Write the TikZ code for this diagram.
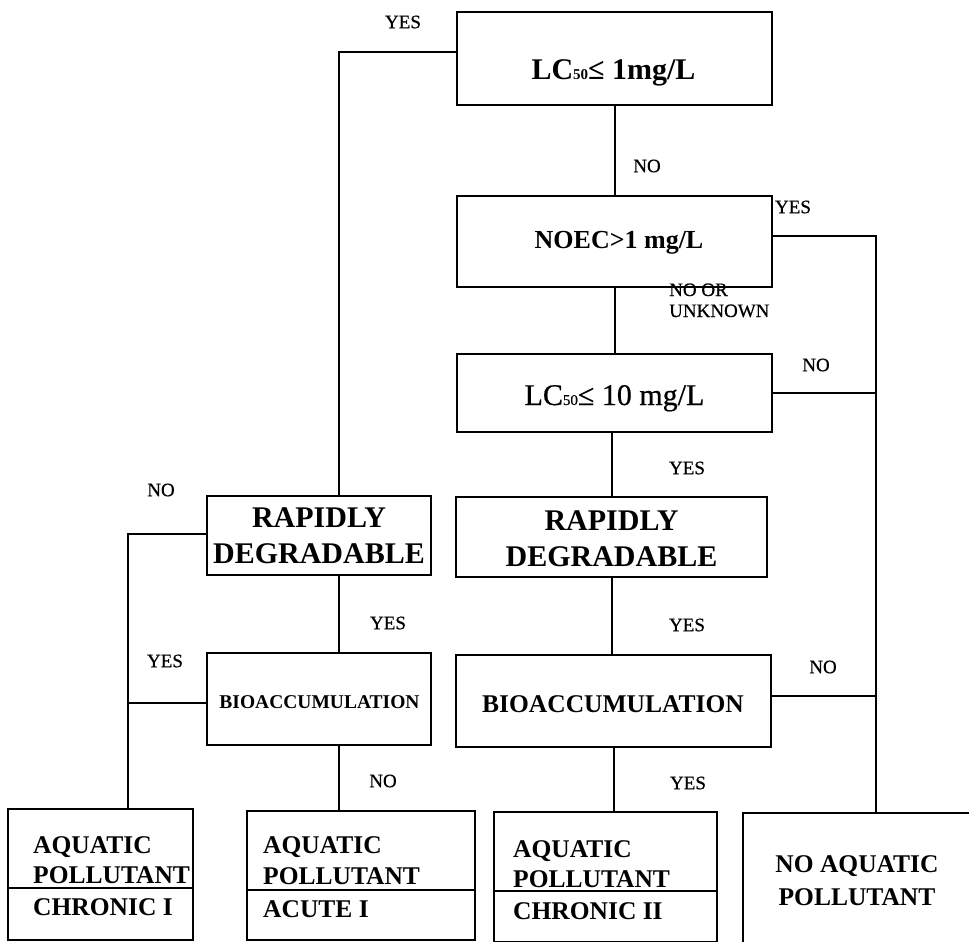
\documentclass[tikz,border=0pt]{standalone}
\usepackage{fontspec}
\setmainfont{Liberation Serif}
\newfontfamily\lblfont[FakeBold=0.6]{Liberation Serif}
\begin{document}
\begin{tikzpicture}[x=1pt,y=-1pt]
\tikzset{
  box/.style={draw, line width=2.6pt, inner sep=0pt, align=center},
  conn/.style={line width=2pt},
  lbl/.style={font=\lblfont\fontsize{19}{21}\selectfont, inner sep=0pt},
  bigb/.style={font=\bfseries\fontsize{30}{36}\selectfont, inner sep=0pt, align=center},
  bigr/.style={font=\lblfont\fontsize{30}{36}\selectfont, inner sep=0pt},
  medb/.style={font=\bfseries\fontsize{25.5}{30}\selectfont, inner sep=0pt},
  smb/.style={font=\bfseries\fontsize{19.5}{22}\selectfont, inner sep=0pt},
}
\clip (0,0) rectangle (969,942);
\fill[white] (0,0) rectangle (969,942);
% column coordinates
\coordinate (xL) at (128,0);
\coordinate (xM) at (339,0);
\coordinate (xR) at (876,0);
% boxes
\node[box, minimum width=315pt, minimum height=93pt] (b1) at (614.5,58.5) {};
\node[box, minimum width=315pt, minimum height=91pt] (b2) at (614.5,241.5) {};
\node[box, minimum width=315pt, minimum height=78pt] (b3) at (614.5,393) {};
\node[box, minimum width=224pt, minimum height=79pt] (rd1) at (319,535.5) {};
\node[box, minimum width=311pt, minimum height=80pt] (rd2) at (611.5,537) {};
\node[box, minimum width=224pt, minimum height=92pt] (bio1) at (319,699) {};
\node[box, minimum width=315pt, minimum height=92pt] (bio2) at (613.5,701) {};
\node[box, minimum width=185pt, minimum height=131pt] (ch1) at (100.5,874.5) {};
\node[box, minimum width=228pt, minimum height=129pt] (ac1) at (361,875.5) {};
\node[box, minimum width=223pt, minimum height=130pt] (ch2) at (605.5,877) {};
\node[box, minimum width=242pt, minimum height=147pt] (na) at (864,886.5) {};
% dividers in result boxes
\coordinate (d1) at (0,888);
\coordinate (d2) at (0,890);
\coordinate (d3) at (0,891);
\draw[line width=2pt] (ch1.west |- d1) -- (ch1.east |- d1);
\draw[line width=2pt] (ac1.west |- d2) -- (ac1.east |- d2);
\draw[line width=2pt] (ch2.west |- d3) -- (ch2.east |- d3);
% box texts
\node[bigb, anchor=base] (t1) at (613.5,80) {LC{\fontsize{15}{15}\selectfont 50}≤ 1mg/L};
\node[font=\bfseries\fontsize{26}{30}\selectfont, inner sep=0pt, anchor=base] (t2) at (619,248) {NOEC>1 mg/L};
\node[bigr, anchor=base] (t3) at (614.5,405) {LC{\fontsize{15}{15}\selectfont 50}≤ 10 mg/L};
\node[bigb] (t4) at (rd1.center) {RAPIDLY\\DEGRADABLE};
\node[bigb] (t5) at ([yshift=-2pt]rd2.center) {RAPIDLY\\DEGRADABLE};
\node[smb, anchor=base] (t6) at (319.5,708) {BIOACCUMULATION};
\node[font=\bfseries\fontsize{25.5}{30}\selectfont, inner sep=0pt, anchor=base] (t7) at (613,712) {BIOACCUMULATION};
% result texts
\node[medb, anchor=base west] (r1a) at (33,853) {AQUATIC};
\node[medb, anchor=base west] (r1b) at (33,883) {POLLUTANT};
\node[medb, anchor=base west] (r1c) at (33,915) {CHRONIC I};
\node[medb, anchor=base west] (r2a) at (263,853) {AQUATIC};
\node[medb, anchor=base west] (r2b) at (263,884) {POLLUTANT};
\node[medb, anchor=base west] (r2c) at (263,917) {ACUTE I};
\node[medb, anchor=base west] (r3a) at (513,857) {AQUATIC};
\node[medb, anchor=base west] (r3b) at (513,887) {POLLUTANT};
\node[medb, anchor=base west] (r3c) at (513,919) {CHRONIC II};
\node[medb, anchor=base] (r4a) at (857,872) {NO AQUATIC};
\node[medb, anchor=base] (r4b) at (857,905) {POLLUTANT};
% connectors
\draw[conn] ([yshift=6.5pt]b1.west) -| (rd1.north -| xM);
\draw[conn] (b1.south) -- (b2.north);
\draw[conn] ([yshift=5.5pt]b2.east) -| (na.north -| xR);
\draw[conn] (b2.south) -- (b3.north);
\draw[conn] (b3.east) -- (b3.east -| xR);
\draw[conn] (rd2.north |- b3.south) -- (rd2.north);
\draw[conn] (rd2.south) -- (rd2.south |- bio2.north);
\draw[conn] ([yshift=5pt]bio2.east) -- ([yshift=5pt]bio2.east -| xR);
\draw[conn] (bio2.south) -- (bio2.south |- ch2.north);
\draw[conn] (rd1.south -| xM) -- (bio1.north -| xM);
\draw[conn] ([yshift=1.5pt]rd1.west) -| (ch1.north -| xL);
\draw[conn] ([yshift=-4pt]bio1.west) -- ([yshift=-4pt]bio1.west -| xL);
\draw[conn] (bio1.south -| xM) -- (ac1.north -| xM);
% labels
\node[lbl] (l1) at (403,22) {YES};
\node[lbl] (l2) at (647,166) {NO};
\node[lbl] (l3) at (793,207) {YES};
\node[lbl, anchor=base west, align=left] (l4) at (669,317) {NO OR\\UNKNOWN};
\node[lbl] (l5) at (816,365) {NO};
\node[lbl] (l6) at (687,468) {YES};
\node[lbl] (l7) at (687,625) {YES};
\node[lbl] (l8) at (823,667) {NO};
\node[lbl] (l9) at (161,490) {NO};
\node[lbl] (l10) at (388,623) {YES};
\node[lbl] (l11) at (165,661) {YES};
\node[lbl] (l12) at (383,781) {NO};
\node[lbl] (l13) at (688,783) {YES};
\end{tikzpicture}
\end{document}
